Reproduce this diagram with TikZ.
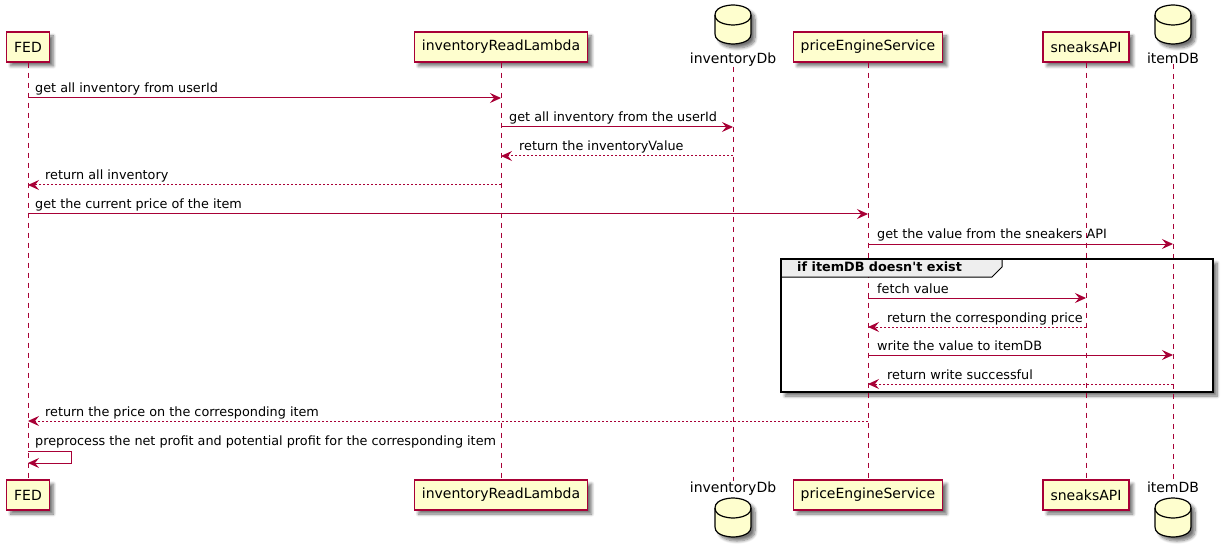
\documentclass[tikz,border=0pt]{standalone}
\usepackage{fontspec}
\setmainfont{DejaVu Sans}[Ligatures=TeXOff]
\usetikzlibrary{arrows.meta,shadows.blur}
\definecolor{plred}{HTML}{A80036}
\definecolor{plfill}{HTML}{FEFECE}
\definecolor{plgroup}{HTML}{EEEEEE}

\begin{document}
\begin{tikzpicture}[x=1pt,y=-1pt,
  softshadow/.style={blur shadow={shadow xshift=4pt,shadow yshift=-4pt,
      shadow blur steps=8,shadow blur radius=3pt,shadow opacity=55}},
  part/.style={draw=plred,fill=plfill,line width=1.2pt,minimum height=30pt,
      inner xsep=7.5pt,font=\fontsize{14}{16}\selectfont,softshadow},
  dblabel/.style={anchor=base,inner sep=0pt,font=\fontsize{14}{16}\selectfont},
  life/.style={draw=plred,line width=1pt,dash pattern=on 5pt off 5pt},
  msg/.style={draw=plred,line width=1pt,-{Stealth[length=11pt,width=10pt,inset=4pt]}},
  reply/.style={msg,dash pattern=on 2pt off 2pt},
  txt/.style={anchor=base west,inner sep=0pt,font=\fontsize{12.8}{15}\selectfont},
  dbcyl/.pic={
    \path[fill=plfill,draw=black,line width=1.2pt,softshadow]
      (-18,10) .. controls (-18,0) and (0,0) .. (0,0)
      .. controls (0,0) and (18,0) .. (18,10) -- (18,29)
      .. controls (18,39) and (0,39) .. (0,39)
      .. controls (0,39) and (-18,39) .. (-18,29) -- cycle;
    \draw[line width=1.2pt]
      (-18,10) .. controls (-18,20) and (0,20) .. (0,20)
      .. controls (0,20) and (18,20) .. (18,10);
  }
]
\useasboundingbox (0,0) rectangle (1226,548);

% group frame background (shadow and white interior)
\path[fill=white,softshadow] (781,259) rectangle (1213,392);

% participants, top row
\node[part] (FEDt) at (28,47) {FED};
\node[part] (IRLt) at (501,47) {inventoryReadLambda};
\node[part] (PESt) at (868,47) {priceEngineService};
\node[part] (SNKt) at (1086,47) {sneaksAPI};
\node[dblabel] (IDBt) at (733,63.5) {inventoryDb};
\node[dblabel] (ITMt) at (1173,63.5) {itemDB};

% participants, bottom row
\node[part] (FEDb) at (28,495) {FED};
\node[part] (IRLb) at (501,495) {inventoryReadLambda};
\node[part] (PESb) at (868,495) {priceEngineService};
\node[part] (SNKb) at (1086,495) {sneaksAPI};
\node[dblabel] (IDBb) at (733,492) {inventoryDb};
\node[dblabel] (ITMb) at (1173,492) {itemDB};

% lifelines
\draw[life] (FEDt.south) -- (FEDb.north);
\draw[life] (IRLt.south) -- (IRLb.north);
\draw[life] (IDBt.south) -- (IDBb.north);
\draw[life] (PESt.south) -- (PESb.north);
\draw[life] (SNKt.south) -- (SNKb.north);
\draw[life] (ITMt.south) -- (ITMb.north);

% database symbols
\pic (IDBcylt) at (733,5) {dbcyl};
\pic (ITMcylt) at (1173,5) {dbcyl};
\pic (IDBcylb) at (733,498) {dbcyl};
\pic (ITMcylb) at (1173,498) {dbcyl};

% alternative fragment
\draw[fill=plgroup,line width=1pt] (781,259) -- (1002,259) -- (1002,267) -- (992,277) -- (781,277) -- cycle;
\draw[line width=1.6pt] (781,259) rectangle (1213,392);
\node[txt,font=\fontsize{12.8}{15}\selectfont\bfseries] (grp) at (797,271) {if itemDB doesn't exist};

% messages
\draw[msg] (FEDt |- 0,98) -- (IRLt |- 0,98);
\node[txt] (m1) at (35,93) {get all inventory from userId};

\draw[msg] (IRLt |- 0,127) -- (IDBt |- 0,127);
\node[txt] (m2) at (509,122) {get all inventory from the userId};

\draw[reply] (IDBt |- 0,156) -- (IRLt |- 0,156);
\node[txt] (m3) at (519,151) {return the inventoryValue};

\draw[reply] (IRLt |- 0,185) -- (FEDt |- 0,185);
\node[txt] (m4) at (45,180) {return all inventory};

\draw[msg] (FEDt |- 0,214) -- (PESt |- 0,214);
\node[txt] (m5) at (35,209) {get the current price of the item};

\draw[msg] (PESt |- 0,244) -- (ITMt |- 0,244);
\node[txt] (m6) at (877,239) {get the value from the sneakers API};

\draw[msg] (PESt |- 0,298) -- (SNKt |- 0,298);
\node[txt] (m7) at (877,293) {fetch value};

\draw[reply] (SNKt |- 0,327) -- (PESt |- 0,327);
\node[txt] (m8) at (887,322) {return the corresponding price};

\draw[msg] (PESt |- 0,355) -- (ITMt |- 0,355);
\node[txt] (m9) at (877,350) {write the value to itemDB};

\draw[reply] (ITMt |- 0,384) -- (PESt |- 0,384);
\node[txt] (m10) at (887,379) {return write successful};

\draw[reply] (PESt |- 0,421) -- (FEDt |- 0,421);
\node[txt] (m11) at (45,416) {return the price on the corresponding item};

\coordinate (loopR) at (71,451);
\draw[msg] (FEDt |- loopR) -- (loopR) -- (loopR |- 0,463) -- (FEDt |- 0,463);
\node[txt] (m12) at (35,445) {preprocess the net profit and potential profit for the corresponding item};

\end{tikzpicture}
\end{document}
